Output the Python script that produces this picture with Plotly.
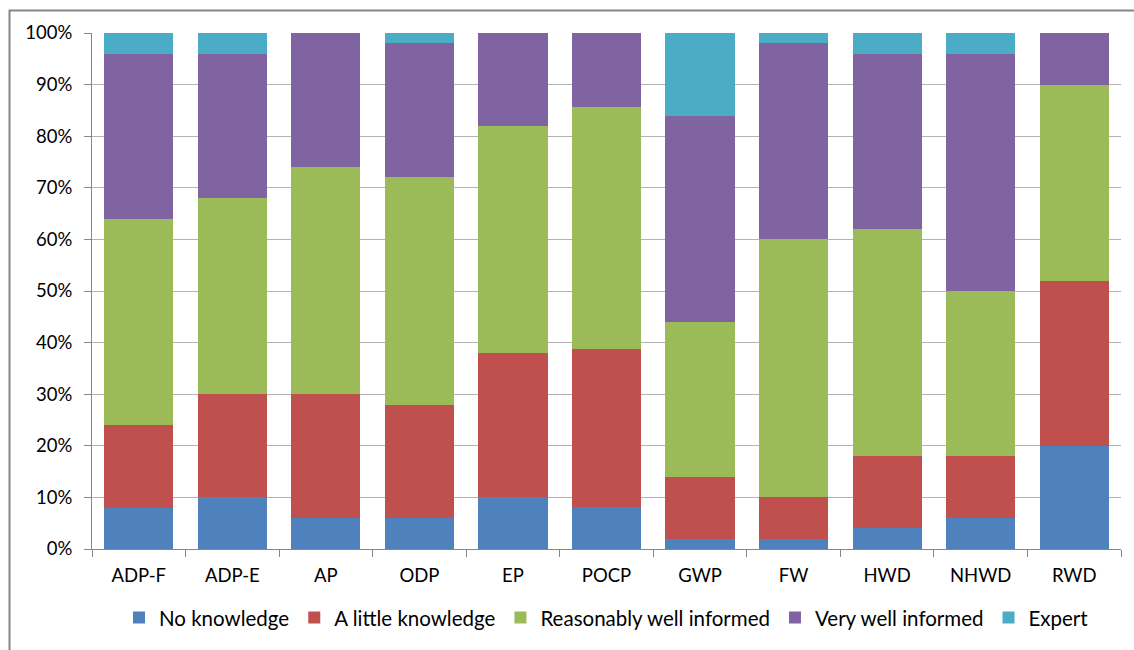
import plotly.graph_objects as go

# Impact categories along the x axis
categories = ["ADP-F", "ADP-E", "AP", "ODP", "EP", "POCP", "GWP", "FW", "HWD", "NHWD", "RWD"]

# Share of respondents (%) per knowledge level
no_knowledge = [8, 10, 6, 6, 10, 8.2, 2, 2, 4, 6, 20]
little_knowledge = [16, 20, 24, 22, 28, 30.6, 12, 8, 14, 12, 32]
reasonably_informed = [40, 38, 44, 44, 44, 46.9, 30, 50, 44, 32, 38]
very_informed = [32, 28, 26, 26, 18, 14.3, 40, 38, 34, 46, 10]
expert = [4, 4, 0, 2, 0, 0, 16, 2, 4, 4, 0]

y_ticks = [0, 10, 20, 30, 40, 50, 60, 70, 80, 90, 100]
y_tick_labels = [f"{v}%" for v in y_ticks]

series = [
    ("No knowledge", no_knowledge, "#4F81BD"),
    ("A little knowledge", little_knowledge, "#C0504D"),
    ("Reasonably well informed", reasonably_informed, "#9BBB59"),
    ("Very well informed", very_informed, "#8064A2"),
    ("Expert", expert, "#4BACC6"),
]

FONT = "Lato, Open Sans, sans-serif"

fig = go.Figure()
for name, vals, color in series:
    fig.add_trace(go.Bar(
        name=name, x=categories, y=vals,
        marker=dict(color=color, line=dict(width=0)),
        hoverinfo="x+y+name",
    ))

W, H = 1134, 650
L, R, T, B = 92, 1121, 33, 551
pw, ph = R - L, B - T

fig.update_layout(
    width=W, height=H,
    barmode="stack",
    bargap=0.26,
    plot_bgcolor="white",
    paper_bgcolor="white",
    margin=dict(l=L, r=W - R, t=T, b=H - B, pad=0),
    font=dict(family=FONT, size=18.5, color="#000000"),
    showlegend=True,
    legend=dict(
        orientation="h", x=0.5, xanchor="center",
        y=(B - 620) / ph, yanchor="middle",
        font=dict(family=FONT, size=20.5, color="#000000"),
        traceorder="normal",
        itemwidth=30,
    ),
    xaxis=dict(
        type="category",
        tickson="boundaries",
        ticks="outside", ticklen=7, tickcolor="#868686", tickwidth=1,
        showline=True, linecolor="#868686", linewidth=1,
        showgrid=False,
        ticklabelstandoff=10,
        tickfont=dict(family=FONT, size=18.5),
    ),
    yaxis=dict(
        range=[0, 100],
        tickmode="array",
        tickvals=y_ticks,
        ticktext=y_tick_labels,
        ticks="outside", ticklen=7, tickcolor="#868686", tickwidth=1,
        showline=True, linecolor="#868686", linewidth=1,
        showgrid=True, gridcolor="#B3B3B3", gridwidth=1,
        zeroline=False,
        ticklabelstandoff=8,
        tickfont=dict(family=FONT, size=18.5),
    ),
)

# Outer chart frame
fig.add_shape(
    type="rect", xref="paper", yref="paper",
    x0=(9.5 - L) / pw, x1=(W + 20 - L) / pw,
    y0=(B - (H + 20)) / ph, y1=(B - 10.5) / ph,
    line=dict(color="#868686", width=2), fillcolor="rgba(0,0,0,0)",
    layer="below",
)

fig.write_html("out.html")
